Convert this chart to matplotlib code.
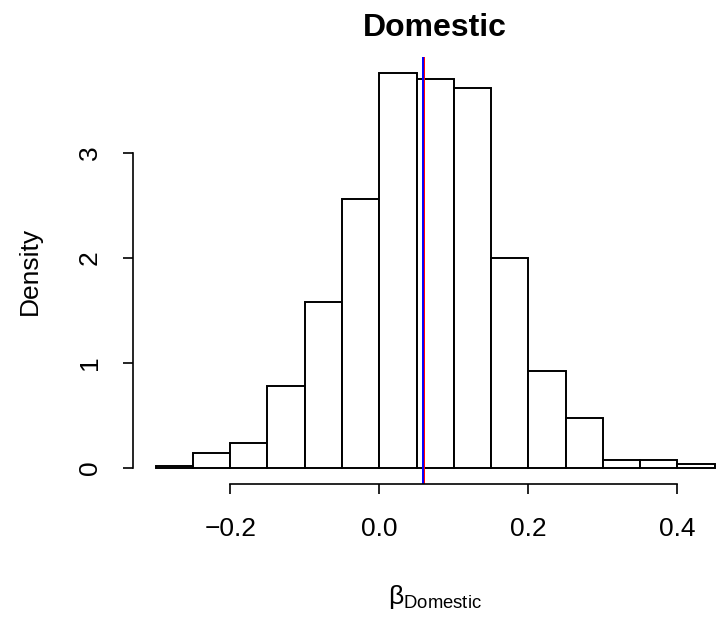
import numpy as np
import matplotlib
matplotlib.use("Agg")
import matplotlib.pyplot as plt

# histogram of the posterior draws (density scale), bins of width 0.05
bin_edges = [-0.30, -0.25, -0.20, -0.15, -0.10, -0.05, 0.00, 0.05,
             0.10, 0.15, 0.20, 0.25, 0.30, 0.35, 0.40, 0.45]
density = [0.02, 0.14, 0.24, 0.78, 1.58, 2.56, 3.76, 3.70,
           3.62, 2.00, 0.92, 0.48, 0.08, 0.08, 0.04]
x_ticks = [-0.2, 0.0, 0.2, 0.4]
x_tick_labels = ["\u22120.2", "0.0", "0.2", "0.4"]
y_ticks = [0, 1, 2, 3]
mean_val = 0.0600    # red line
median_val = 0.0583  # blue line

plt.rcParams['font.family'] = ['Liberation Sans', 'DejaVu Sans']
plt.rcParams['mathtext.fontset'] = 'custom'
plt.rcParams['mathtext.rm'] = 'Liberation Sans'
plt.rcParams['mathtext.it'] = 'Liberation Sans'

W, H = 719, 623
fig = plt.figure(figsize=(W / 100, H / 100), dpi=100)
# plot region in pixels: left 133, right 737 (past the edge), top 57, bottom 484
ax_l, ax_r, ax_t, ax_b = 133.3, 737.0, 57.0, 484.0
ax = fig.add_axes([ax_l / W, 1 - ax_b / H, (ax_r - ax_l) / W, (ax_b - ax_t) / H])

edges = np.array(bin_edges)
ax.bar(edges[:-1], density, width=np.diff(edges), align='edge',
       facecolor='white', edgecolor='black', linewidth=1.4)

ax.axvline(mean_val, color='red', linewidth=1.4)
ax.axvline(median_val, color='blue', linewidth=1.4)

ax.set_xlim(-0.33, 0.48)
top = max(density)
ax.set_ylim(-0.04 * top, 1.04 * top)

for s in ['top', 'right']:
    ax.spines[s].set_visible(False)
ax.spines['bottom'].set_bounds(-0.2, 0.4)
ax.spines['left'].set_bounds(0, 3)
ax.spines['bottom'].set_linewidth(1.2)
ax.spines['left'].set_linewidth(1.2)

ax.set_xticks(x_ticks)
ax.set_xticklabels(x_tick_labels)
ax.set_yticks(y_ticks)
ax.set_yticklabels([str(v) for v in y_ticks], rotation=90, va='center')
ax.tick_params(axis='both', direction='out', length=7, width=1.2, labelsize=19)
ax.tick_params(axis='x', pad=17)
ax.tick_params(axis='y', pad=15.5)

ax.set_title("Domestic", fontsize=23, fontweight='bold', pad=15)
ax.set_ylabel("Density", fontsize=19)
ax.yaxis.set_label_coords((42 - ax_l) / (ax_r - ax_l), 0.5)
ax.set_xlabel(r"$\mathregular{\beta_{Domestic}}$", fontsize=19)
ax.xaxis.set_label_coords(0.5, -(583 - ax_b) / (ax_b - ax_t))

fig.savefig("out.png", dpi=100)
